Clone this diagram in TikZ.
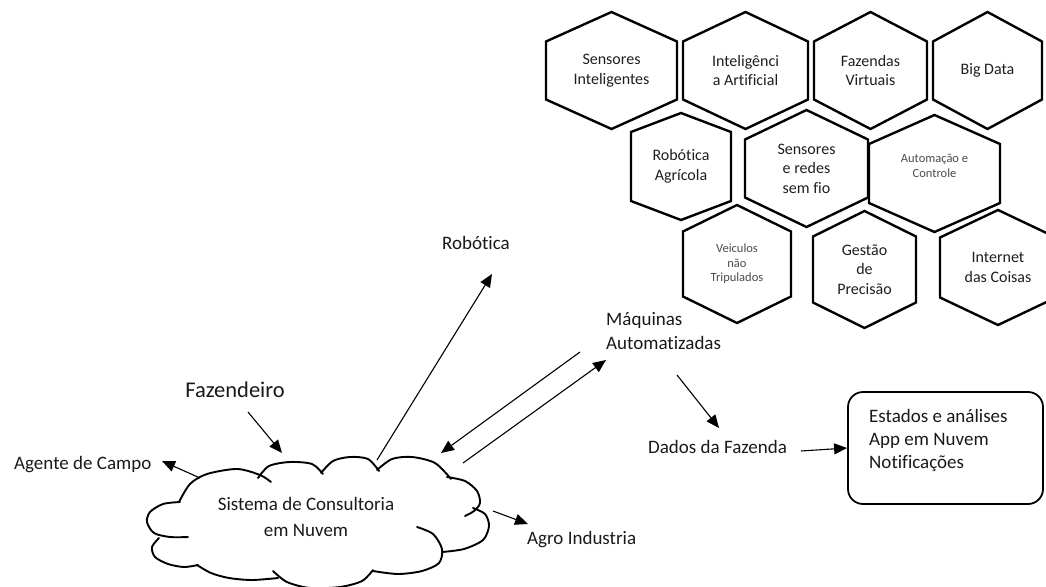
\documentclass[tikz,border=0pt]{standalone}
\usepackage{fontspec}
\setmainfont{Carlito}[Ligatures=NoCommon]
\usetikzlibrary{arrows.meta}

% hexagon with vertical sides: name, cx, cy, half width, half height, half side, text
\newcommand\hexcell[7]{%
  \draw[hexline] ({#2-#4},{#3-#6}) -- (#2,{#3-#5}) -- ({#2+#4},{#3-#6})
    -- ({#2+#4},{#3+#6}) -- (#2,{#3+#5}) -- ({#2-#4},{#3+#6}) -- cycle;
  \node[hextext] (#1) at (#2,#3) {#7};}

\tikzset{
  hexline/.style={line width=2.4, line join=miter, fill=white},
  hextext/.style={align=center, font=\fontsize{16}{19.5}\selectfont, text=black!88},
  hexsmall/.style={font=\fontsize{12.5}{14.5}\selectfont, text=black!70},
  lbl/.style={font=\fontsize{19}{24}\selectfont, text=black!90, inner sep=0},
  arr/.style={line width=1.1, -{Triangle[length=13, width=11]}},
  puff/.style={line width=1.9, line cap=round},
}

\begin{document}
\begin{tikzpicture}[x=1pt, y=-1pt]
\useasboundingbox (0,0) rectangle (1046,586);

% technology hexagons
\hexcell{h1}{611.5}{70.5}{65.5}{58.5}{29}{Sensores\\Inteligentes}
\hexcell{h2}{745.5}{70.5}{62.5}{58.5}{29}{Inteligênci\\a Artificial}
\hexcell{h3}{870.5}{70.5}{56.5}{58.5}{29}{Fazendas\\Virtuais}
\hexcell{h4}{987.5}{70.5}{54.5}{58.5}{29}{Big Data}
\hexcell{h5}{681}{166.5}{50}{53.5}{34.5}{Robótica\\Agrícola}
\hexcell{h6}{806.5}{168.5}{61.5}{58.5}{29}{Sensores\\e redes\\sem fio}
\hexcell{h7}{934.5}{173.5}{65.5}{58.5}{29.5}{}
\node[hextext, hexsmall] (h7t) at (934.5,166) {Automação e\\Controle};
\hexcell{h8}{737}{264}{54}{59}{32.5}{}
\node[hextext, hexsmall] (h8t) at (737,264) {Veiculos\\não\\Tripulados};
\hexcell{h9}{864.5}{269.5}{51.5}{58.5}{33}{Gestão\\de\\Precisão}
\hexcell{h10}{998}{267.5}{58}{57.5}{30}{Internet\\das Coisas}

% cloud outline, one puff at a time (some puffs curl inwards)
\draw[puff] plot[smooth] coordinates {(179,502) (190,484) (207,474) (237,469) (260,475) (271,482)};
\draw[puff] plot[smooth] coordinates {(258,478) (269,466) (290,462) (312,464) (323,474)};
\draw[puff] plot[smooth] coordinates {(321,473) (333,461) (350,457) (368,459) (379,471)};
\draw[puff] plot[smooth] coordinates {(377,470) (392,459) (412,457) (435,463) (451,479)};
\draw[puff] plot[smooth] coordinates {(447,477) (465,481) (477,491) (480,503) (474,511) (465,516)};
\draw[puff] plot[smooth] coordinates {(473,508) (485,514) (489,526) (483,540) (464,549) (442,552)};
\draw[puff] plot[smooth] coordinates {(417,527) (433,534) (442,549) (439,563) (422,571) (398,574) (373,571)};
\draw[puff] plot[smooth] coordinates {(373,570) (362,581) (340,587) (310,588) (287,582) (273,571)};
\draw[puff] plot[smooth] coordinates {(197,565) (211,573) (229,578) (252,580) (278,578)};
\draw[puff] plot[smooth] coordinates {(159,538) (152,547) (155,557) (168,564) (184,567) (198,565)};
\draw[puff] plot[smooth] coordinates {(180,502) (163,504) (150,512) (147,522) (154,533) (170,537) (188,537)};
\node[lbl, align=center, font=\fontsize{19}{26}\selectfont] (cloud) at (306,517)
  {Sistema de Consultoria\\em Nuvem};

% labels
\node[lbl, font=\fontsize{22.5}{26}\selectfont] (faz) at (235,390) {Fazendeiro};
\node[lbl, anchor=west] (agente) at (14,465) {Agente de Campo};
\node[lbl, anchor=west] (agro) at (527,540) {Agro Industria};
\node[lbl] (rob) at (476,243) {Robótica};
\node[lbl, anchor=west, align=left] (maq) at (606,331) {Máquinas\\Automatizadas};
\node[lbl, anchor=west] (dados) at (648,447) {Dados da Fazenda};

% output box and its three lines
\node[draw, line width=1.8, rounded corners=15, minimum width=195, minimum height=112]
  (box) at (945.5,448) {};
\node[lbl, anchor=west, align=left, font=\fontsize{19}{23}\selectfont] (boxtxt) at (869,440)
  {Estados e análises\\App em Nuvem\\Notificações};

% connector end points
\coordinate (fazS) at (248,412);   \coordinate (fazE) at (282,453);
\coordinate (agS) at (200,478);    \coordinate (agE) at (162,461);
\coordinate (robS) at (377,460);   \coordinate (robE) at (492,274);
\coordinate (inS) at (580,352);    \coordinate (inE) at (441,453);
\coordinate (outS) at (463,463);   \coordinate (outE) at (606,360);
\coordinate (datS) at (677,375);   \coordinate (datE) at (719,428);
\coordinate (boxS) at (801,451);
\coordinate (agrS) at (493,511);   \coordinate (agrE) at (528,524);

% connectors
\draw[arr] (fazS) -- (fazE);
\draw[arr] (agS) -- (agE);
\draw[arr] (robS) -- (robE);
\draw[arr] (inS) -- (inE);
\draw[arr] (outS) -- (outE);
\draw[arr] (datS) -- (datE);
\draw[arr] (boxS) -- (box.west |- 0,448);
\draw[arr] (agrS) -- (agrE);
\end{tikzpicture}
\end{document}
